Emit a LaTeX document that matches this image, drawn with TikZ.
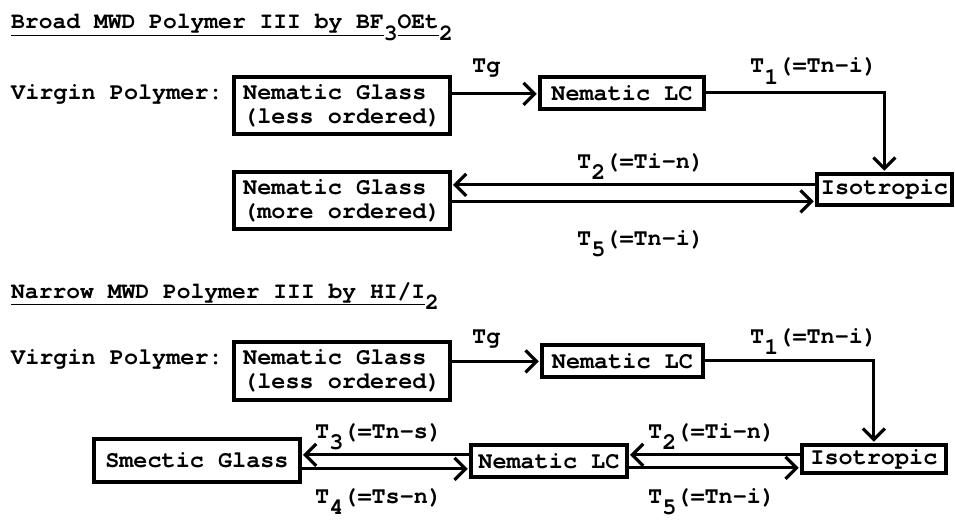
\documentclass[tikz,border=0pt]{standalone}
\usepackage{fontspec}
\setmainfont{texgyrecursor-bold.otf}
\usetikzlibrary{arrows.meta}
\frenchspacing
% lowered index digit, as typed on the typewriter
\newcommand\dn[1]{\raisebox{-0.5em}{#1}}
% underline kept at a common depth
\newcommand\ul[1]{\underline{#1\vphantom{y}}}
\newcommand\boxfont{\fontsize{23.5}{24}\selectfont}
\newcommand\labfont{\fontsize{23.5}{24}\selectfont}
\newcommand\headfont{\fontsize{23}{26}\selectfont}
\tikzset{
  stbox/.style={draw, line width=3.8pt, inner xsep=3pt, inner ysep=2pt,
    anchor=north west, align=left, font=\boxfont},
  conn/.style={line width=3pt},
  arr/.style={conn, shorten >=1.2pt,
    -{Straight Barb[length=11pt,width=22pt,line width=3.2pt]}},
  lab/.style={inner sep=0pt, anchor=base west, font=\labfont},
  head/.style={inner sep=0pt, anchor=base west, font=\headfont},
}
\begin{document}
\begin{tikzpicture}[x=1pt, y=-1pt]
\useasboundingbox[fill=white] (0,0) rectangle (955,519);

% ---------- broad MWD sample ----------
\node[head] (h1) at (11,29) {\ul{Broad MWD Polymer III by BF}\dn{3}\ul{OEt}\dn{2}};
\node[lab] (v1) at (11,99) {Virgin Polymer:};

\node[stbox, minimum width=216pt, minimum height=57pt] (A) at (232,75)
  {Nematic Glass\\(less ordered)};
\node[stbox, minimum width=164pt, minimum height=32pt] (B) at (538,75) {Nematic LC};
\node[stbox, minimum width=135pt, minimum height=31pt] (C) at (815,172) {Isotropic};
\node[stbox, minimum width=216pt, minimum height=57pt] (D) at (232,170)
  {Nematic Glass\\(more ordered)};

\draw[arr] ([yshift=11.5pt]A.east) -- ([yshift=11.5pt]A.east -| B.west);
\draw[arr] (B.east) -| (C.north);
\draw[arr] ([yshift=4.5pt]C.west) -- ([yshift=4.5pt]C.west -| D.east);
\draw[arr] ([yshift=-12pt]C.west -| D.east) -- ([yshift=-12pt]C.west);

\node[lab] (tg1) at (472,73) {Tg};
\node[lab] (ta1) at (750,73) {T\dn{1}(=Tn-i)};
\node[lab] (tb1) at (577,168) {T\dn{2}(=Ti-n)};
\node[lab] (tc1) at (577,245) {T\dn{5}(=Tn-i)};

% ---------- narrow MWD sample ----------
\node[head] (h2) at (11,298) {\ul{Narrow MWD Polymer III by HI/I}\dn{2}};
\node[lab] (v2) at (11,364) {Virgin Polymer:};

\node[stbox, minimum width=216pt, minimum height=58pt] (A2) at (232,340)
  {Nematic Glass\\(less ordered)};
\node[stbox, minimum width=161pt, minimum height=32pt] (B2) at (540,343) {Nematic LC};
\node[stbox, minimum width=144pt, minimum height=28pt] (C2) at (800,443) {Isotropic};
\node[stbox, minimum width=156pt, minimum height=32pt] (B3) at (469,443) {Nematic LC};
\node[stbox, minimum width=206pt, minimum height=43pt] (S) at (92,437) {Smectic Glass};

\draw[arr] ([yshift=9.5pt]A2.east) -- ([yshift=9.5pt]A2.east -| B2.west);
\draw[arr] (B2.east) -| (C2.north);
\draw[arr] ([yshift=4pt]C2.west) -- ([yshift=4pt]C2.west -| B3.east);
\draw[arr] ([yshift=-9pt]C2.west -| B3.east) -- ([yshift=-9pt]C2.west);
\draw[arr] ([yshift=6pt]B3.west) -- ([yshift=6pt]B3.west -| S.east);
\draw[arr] ([yshift=-8pt]B3.west -| S.east) -- ([yshift=-8pt]B3.west);

\node[lab] (tg2) at (472,343) {Tg};
\node[lab] (ta2) at (750,343) {T\dn{1}(=Tn-i)};
\node[lab] (tb2) at (648,438) {T\dn{2}(=Ti-n)};
\node[lab] (tc2) at (648,503) {T\dn{5}(=Tn-i)};
\node[lab] (td2) at (315,438) {T\dn{3}(=Tn-s)};
\node[lab] (te2) at (315,503) {T\dn{4}(=Ts-n)};
\end{tikzpicture}
\end{document}
